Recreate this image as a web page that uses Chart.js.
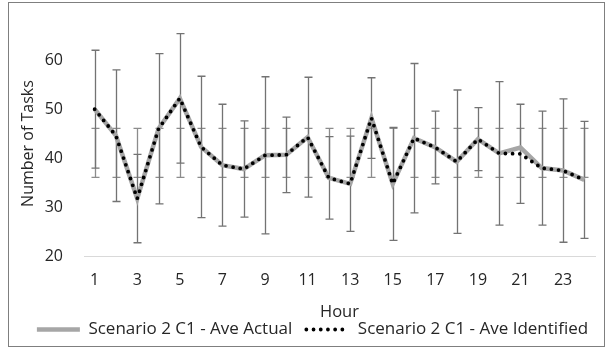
<!DOCTYPE html>
<html>
<head>
<meta charset="utf-8">
<script src="https://cdn.jsdelivr.net/npm/chart.js@4/dist/chart.umd.min.js"></script>
<style>
    html, body { margin: 0; padding: 0; background: #ffffff; }
    #wrap { width: 607px; height: 350px; position: relative; }
</style>
</head>
<body>
<div id="wrap"><canvas id="tasksChart" width="607" height="350"></canvas></div>
<script>
// ===== DATA =====
var hours = ['1','2','3','4','5','6','7','8','9','10','11','12','13','14','15','16','17','18','19','20','21','22','23','24'];

var aveActual = [50.0, 44.6, 31.8, 46.0, 52.2, 42.3, 38.6, 37.8, 40.6, 40.7, 44.3, 36.0,
                 34.8, 48.2, 34.8, 44.1, 42.2, 39.3, 43.9, 41.0, 42.2, 38.0, 37.5, 35.6];

var aveIdentified = [50.0, 44.6, 31.8, 46.0, 52.2, 42.3, 38.6, 37.8, 40.6, 40.7, 44.3, 36.0,
                     34.8, 48.2, 34.8, 44.1, 42.2, 39.3, 43.9, 41.0, 40.9, 38.0, 37.5, 35.6];

// +/- error for the identified series
var identifiedErr = [12.0, 13.4, 9.0, 15.3, 13.2, 14.4, 12.4, 9.8, 16.0, 7.7, 12.2, 8.4,
                     9.7, 8.2, 11.5, 15.2, 7.4, 14.6, 6.4, 14.6, 10.1, 11.6, 14.6, 11.9];

// the actual series' bars all span the same band (std-dev around the series mean)
var actualBarLow = 36.1;
var actualBarHigh = 46.1;

var yTicks = [20, 30, 40, 50, 60];

var textColor = '#262626';
var fontFamily = "'Open Sans', 'Liberation Sans', sans-serif";

// ===== ERROR BAR PLUGIN =====
var errorBarPlugin = {
    id: 'errorBars',
    beforeDatasetsDraw: function(chart) {
        var ctx = chart.ctx;
        var xs = chart.scales.x;
        var ys = chart.scales.y;
        var cap = 4;

        function bar(i, lo, hi, color) {
            var x = Math.round(xs.getPixelForValue(i)) + 0.5;
            var yLo = ys.getPixelForValue(lo);
            var yHi = ys.getPixelForValue(hi);
            ctx.strokeStyle = color;
            ctx.lineWidth = 1.3;
            ctx.beginPath();
            ctx.moveTo(x, yLo);
            ctx.lineTo(x, yHi);
            ctx.moveTo(x - cap, yLo);
            ctx.lineTo(x + cap, yLo);
            ctx.moveTo(x - cap, yHi);
            ctx.lineTo(x + cap, yHi);
            ctx.stroke();
        }

        ctx.save();
        for (var i = 0; i < hours.length; i++) {
            bar(i, actualBarLow, actualBarHigh, '#8c8c8c');
            bar(i, aveIdentified[i] - identifiedErr[i], aveIdentified[i] + identifiedErr[i], '#737373');
        }
        ctx.restore();
    }
};

// ===== OUTER FRAME + LEGEND NUDGE =====
var framePlugin = {
    id: 'frame',
    afterLayout: function(chart) {
        // legend in the original sits a bit right of the plot centre
        chart.legend.left += 11;
        chart.legend.right += 11;
    },
    afterDraw: function(chart) {
        var ctx = chart.ctx;
        ctx.save();
        ctx.strokeStyle = '#7f7f7f';
        ctx.lineWidth = 1;
        ctx.strokeRect(8.5, 2.5, 596, 344);
        ctx.restore();
    }
};

// ===== CHART =====
var ctx = document.getElementById('tasksChart').getContext('2d');
var myChart = new Chart(ctx, {
    type: 'line',
    data: {
        labels: hours,
        datasets: [{
            label: 'Scenario 2 C1 - Ave Actual',
            data: aveActual,
            borderColor: '#a6a6a6',
            backgroundColor: '#a6a6a6',
            borderWidth: 4.5,
            pointRadius: 0,
            tension: 0,
            fill: false,
            order: 1
        }, {
            label: 'Scenario 2 C1 - Ave Identified',
            data: aveIdentified,
            borderColor: '#000000',
            backgroundColor: '#000000',
            borderWidth: 3.8,
            borderDash: [0, 7.2],
            borderCapStyle: 'round',
            pointRadius: 0,
            tension: 0,
            fill: false,
            order: 0
        }]
    },
    options: {
        responsive: false,
        animation: false,
        layout: {
            padding: { left: 8, right: 12, top: 19, bottom: 2 }
        },
        plugins: {
            legend: {
                position: 'bottom',
                labels: {
                    usePointStyle: true,
                    pointStyle: 'line',
                    pointStyleWidth: 43,
                    boxWidth: 43,
                    boxHeight: 4,
                    padding: 14,
                    color: textColor,
                    font: { family: fontFamily, size: 17 },
                    sort: function(a, b) { return a.datasetIndex - b.datasetIndex; },
                    generateLabels: function(chart) {
                        var items = Chart.defaults.plugins.legend.labels.generateLabels(chart);
                        items.forEach(function(item) {
                            var ds = chart.data.datasets[item.datasetIndex];
                            item.lineDash = ds.borderDash || [];
                            item.lineCap = ds.borderCapStyle || 'butt';
                            item.lineWidth = ds.borderWidth;
                            item.strokeStyle = ds.borderColor;
                        });
                        return items;
                    }
                }
            },
            tooltip: { enabled: false }
        },
        scales: {
            x: {
                type: 'category',
                offset: true,
                grid: { display: false, drawTicks: false },
                border: { display: true, color: '#d9d9d9', width: 1 },
                afterFit: function(scale) {
                    scale.height = 50.5;
                },
                ticks: {
                    autoSkip: false,
                    maxRotation: 0,
                    padding: 14,
                    color: textColor,
                    font: { family: fontFamily, size: 16 },
                    callback: function(value, index) {
                        return index % 2 === 0 ? hours[index] : '';
                    }
                },
                title: {
                    display: true,
                    text: 'Hour',
                    color: textColor,
                    font: { family: fontFamily, size: 16.5 },
                    padding: { top: 0, bottom: -15 }
                }
            },
            y: {
                min: 20,
                max: 66,
                grid: { display: false, drawTicks: false },
                border: { display: false },
                afterBuildTicks: function(scale) {
                    scale.ticks = yTicks.map(function(v) { return { value: v }; });
                },
                afterFit: function(scale) {
                    scale.width = 76;
                },
                ticks: {
                    padding: 21,
                    color: textColor,
                    font: { family: fontFamily, size: 16 }
                },
                title: {
                    display: true,
                    text: 'Number of Tasks',
                    color: textColor,
                    font: { family: fontFamily, size: 16 },
                    padding: { top: 11, bottom: 0 }
                }
            }
        }
    },
    plugins: [errorBarPlugin, framePlugin]
});
</script>
</body>
</html>
